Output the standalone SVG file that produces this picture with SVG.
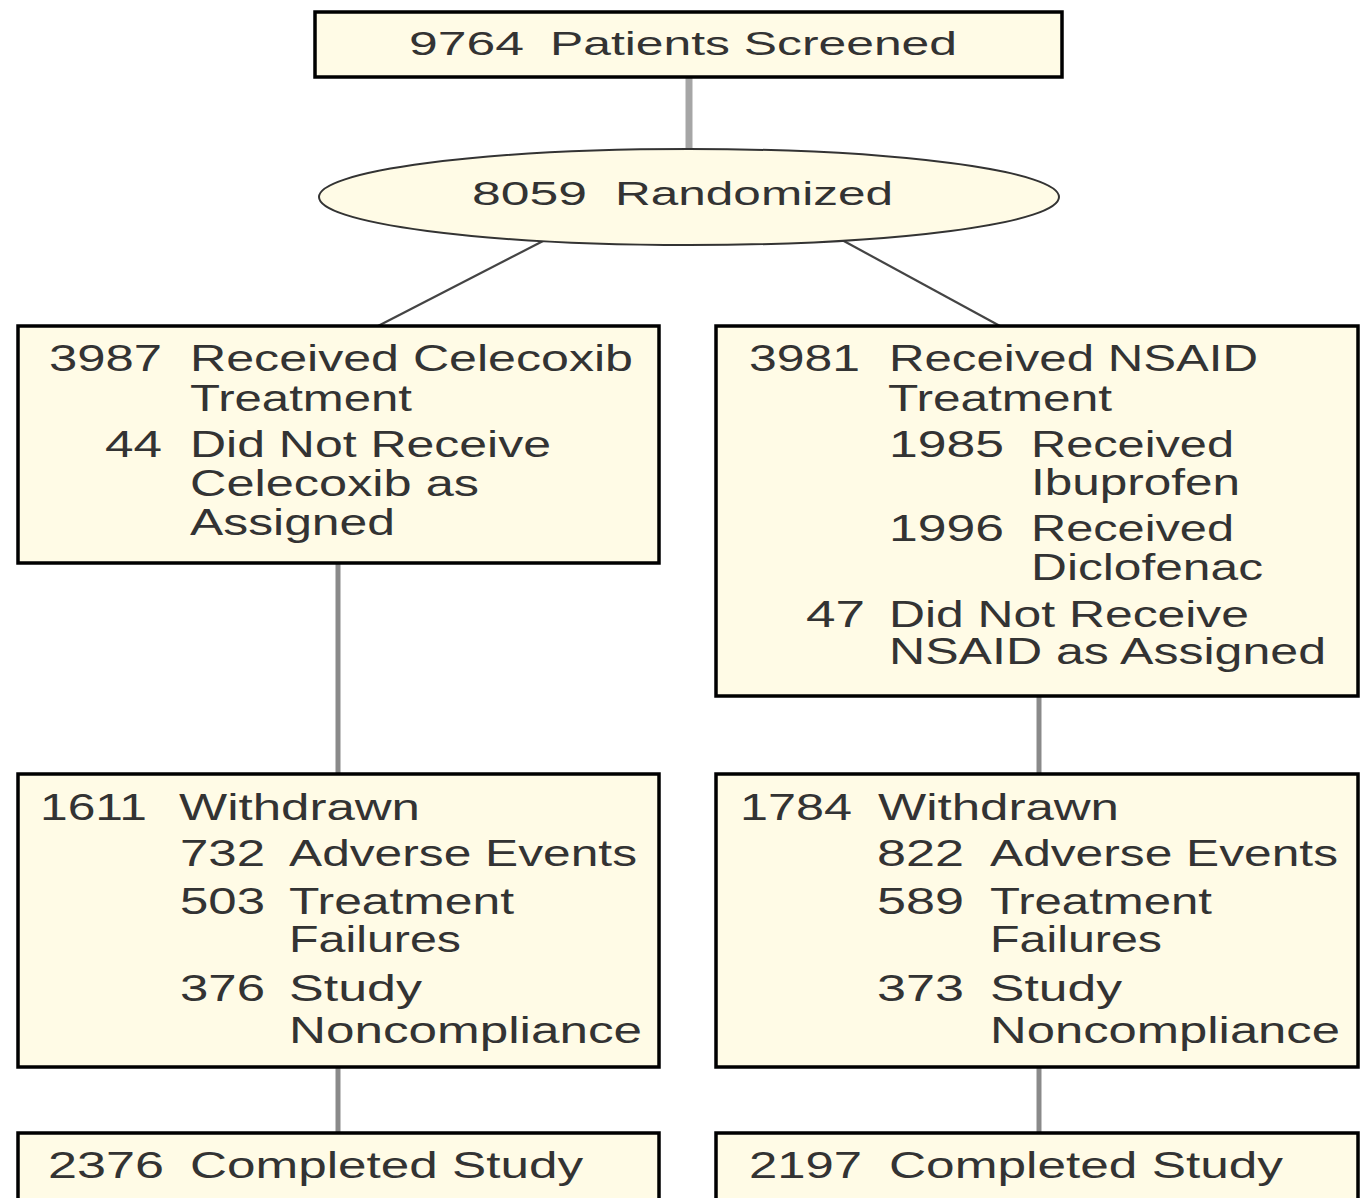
<svg xmlns="http://www.w3.org/2000/svg" width="1363" height="1198" viewBox="0 0 1363 1198">
<style>
.box{fill:#fffbe6;stroke:#000;stroke-width:3.5}
.t{font-family:"Liberation Sans",Arial,sans-serif;font-size:36px;fill:#333}
.tt{font-family:"Liberation Sans",Arial,sans-serif;font-size:34px;fill:#333}
.v{stroke:#8a8a8a;stroke-width:5;fill:none}
.d{stroke:#444;stroke-width:2.2;fill:none}
</style>
<g id="connectors">
<line class="v" x1="689" y1="78" x2="689" y2="150" style="stroke:#a6a6a6;stroke-width:7"/>
<line class="d" x1="545" y1="240" x2="378" y2="326"/>
<line class="d" x1="842" y1="240" x2="1000" y2="326"/>
<line class="v" x1="338" y1="563" x2="338" y2="774"/>
<line class="v" x1="1039" y1="696" x2="1039" y2="774"/>
<line class="v" x1="338" y1="1067" x2="338" y2="1133"/>
<line class="v" x1="1039" y1="1067" x2="1039" y2="1133"/>
</g>
<g id="screened">
<rect class="box" x="315" y="12" width="747" height="65"/>
<text class="tt" x="409" y="55" textLength="115" lengthAdjust="spacingAndGlyphs">9764</text>
<text class="tt" x="550" y="55" textLength="407" lengthAdjust="spacingAndGlyphs">Patients Screened</text>
</g>
<g id="randomized">
<ellipse cx="689" cy="197" rx="370" ry="48" style="fill:#fffbe6;stroke:#333;stroke-width:2"/>
<text class="tt" x="472" y="205" textLength="115" lengthAdjust="spacingAndGlyphs">8059</text>
<text class="tt" x="615" y="205" textLength="278" lengthAdjust="spacingAndGlyphs">Randomized</text>
</g>
<g id="celecoxib">
<rect class="box" x="18" y="326" width="641" height="237"/>
<text class="t" x="49" y="371" textLength="113" lengthAdjust="spacingAndGlyphs">3987</text>
<text class="t" x="190" y="371" textLength="443" lengthAdjust="spacingAndGlyphs">Received Celecoxib</text>
<text class="t" x="190" y="411" textLength="222" lengthAdjust="spacingAndGlyphs">Treatment</text>
<text class="t" x="105" y="457" textLength="57" lengthAdjust="spacingAndGlyphs">44</text>
<text class="t" x="190" y="457" textLength="361" lengthAdjust="spacingAndGlyphs">Did Not Receive</text>
<text class="t" x="190" y="496" textLength="289" lengthAdjust="spacingAndGlyphs">Celecoxib as</text>
<text class="t" x="190" y="535" textLength="205" lengthAdjust="spacingAndGlyphs">Assigned</text>
</g>
<g id="nsaid">
<rect class="box" x="716" y="326" width="642" height="370"/>
<text class="t" x="749" y="371" textLength="111" lengthAdjust="spacingAndGlyphs">3981</text>
<text class="t" x="889" y="371" textLength="369" lengthAdjust="spacingAndGlyphs">Received NSAID</text>
<text class="t" x="888" y="411" textLength="224" lengthAdjust="spacingAndGlyphs">Treatment</text>
<text class="t" x="889" y="457" textLength="115" lengthAdjust="spacingAndGlyphs">1985</text>
<text class="t" x="1031" y="457" textLength="203" lengthAdjust="spacingAndGlyphs">Received</text>
<text class="t" x="1031" y="495" textLength="209" lengthAdjust="spacingAndGlyphs">Ibuprofen</text>
<text class="t" x="889" y="541" textLength="115" lengthAdjust="spacingAndGlyphs">1996</text>
<text class="t" x="1031" y="541" textLength="203" lengthAdjust="spacingAndGlyphs">Received</text>
<text class="t" x="1031" y="580" textLength="232" lengthAdjust="spacingAndGlyphs">Diclofenac</text>
<text class="t" x="806" y="627" textLength="59" lengthAdjust="spacingAndGlyphs">47</text>
<text class="t" x="889" y="627" textLength="360" lengthAdjust="spacingAndGlyphs">Did Not Receive</text>
<text class="t" x="889" y="664" textLength="437" lengthAdjust="spacingAndGlyphs">NSAID as Assigned</text>
</g>
<g id="withdrawn-celecoxib">
<rect class="box" x="18" y="774" width="641" height="293"/>
<text class="t" x="40" y="820" textLength="107" lengthAdjust="spacingAndGlyphs">1611</text>
<text class="t" x="179" y="820" textLength="241" lengthAdjust="spacingAndGlyphs">Withdrawn</text>
<text class="t" x="180" y="866" textLength="85" lengthAdjust="spacingAndGlyphs">732</text>
<text class="t" x="289" y="866" textLength="348" lengthAdjust="spacingAndGlyphs">Adverse Events</text>
<text class="t" x="180" y="914" textLength="85" lengthAdjust="spacingAndGlyphs">503</text>
<text class="t" x="289" y="914" textLength="225" lengthAdjust="spacingAndGlyphs">Treatment</text>
<text class="t" x="289" y="952" textLength="172" lengthAdjust="spacingAndGlyphs">Failures</text>
<text class="t" x="180" y="1001" textLength="85" lengthAdjust="spacingAndGlyphs">376</text>
<text class="t" x="289" y="1001" textLength="133" lengthAdjust="spacingAndGlyphs">Study</text>
<text class="t" x="289" y="1043" textLength="353" lengthAdjust="spacingAndGlyphs">Noncompliance</text>
</g>
<g id="withdrawn-nsaid">
<rect class="box" x="716" y="774" width="642" height="293"/>
<text class="t" x="740" y="820" textLength="112" lengthAdjust="spacingAndGlyphs">1784</text>
<text class="t" x="878" y="820" textLength="241" lengthAdjust="spacingAndGlyphs">Withdrawn</text>
<text class="t" x="877" y="866" textLength="87" lengthAdjust="spacingAndGlyphs">822</text>
<text class="t" x="990" y="866" textLength="348" lengthAdjust="spacingAndGlyphs">Adverse Events</text>
<text class="t" x="877" y="914" textLength="87" lengthAdjust="spacingAndGlyphs">589</text>
<text class="t" x="990" y="914" textLength="222" lengthAdjust="spacingAndGlyphs">Treatment</text>
<text class="t" x="990" y="952" textLength="172" lengthAdjust="spacingAndGlyphs">Failures</text>
<text class="t" x="877" y="1001" textLength="87" lengthAdjust="spacingAndGlyphs">373</text>
<text class="t" x="990" y="1001" textLength="132" lengthAdjust="spacingAndGlyphs">Study</text>
<text class="t" x="990" y="1043" textLength="350" lengthAdjust="spacingAndGlyphs">Noncompliance</text>
</g>
<g id="completed-celecoxib">
<rect class="box" x="18" y="1133" width="641" height="80"/>
<text class="t" x="48" y="1178" textLength="116" lengthAdjust="spacingAndGlyphs">2376</text>
<text class="t" x="190" y="1178" textLength="393" lengthAdjust="spacingAndGlyphs">Completed Study</text>
</g>
<g id="completed-nsaid">
<rect class="box" x="716" y="1133" width="642" height="80"/>
<text class="t" x="749" y="1178" textLength="113" lengthAdjust="spacingAndGlyphs">2197</text>
<text class="t" x="889" y="1178" textLength="394" lengthAdjust="spacingAndGlyphs">Completed Study</text>
</g>
</svg>
